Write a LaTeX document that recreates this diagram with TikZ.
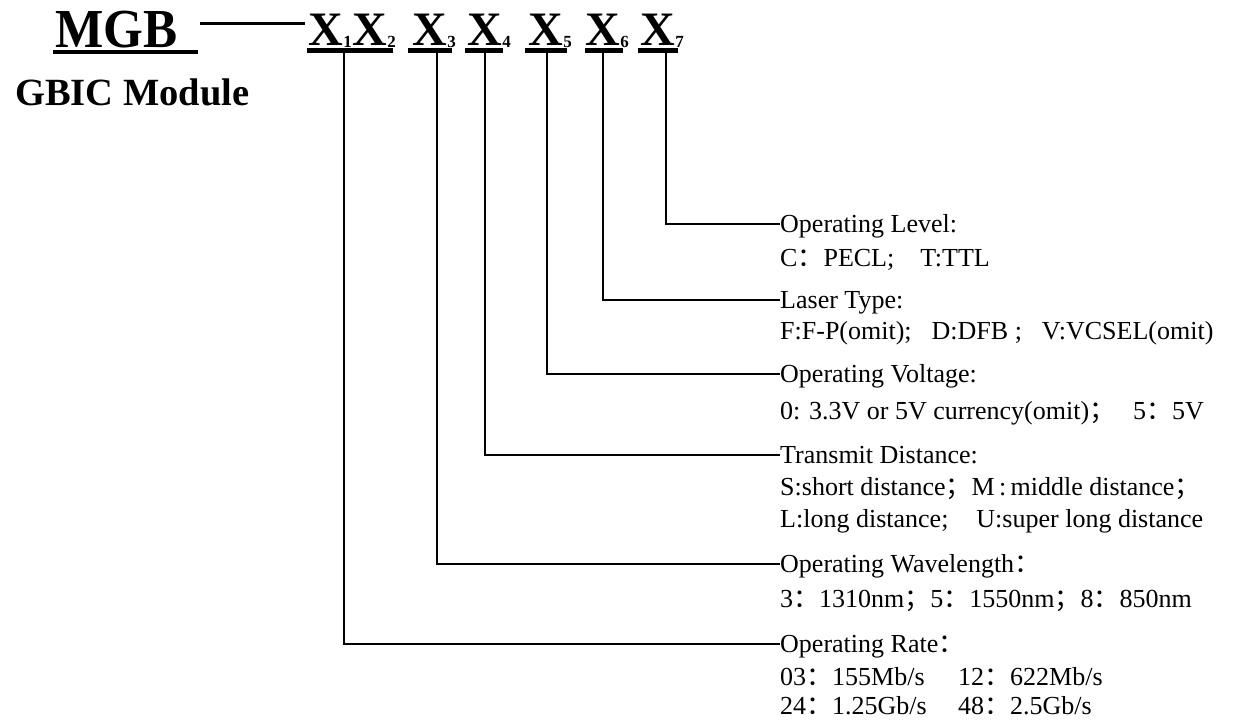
\documentclass[tikz,border=0pt]{standalone}
\usepackage{fontspec}
\setmainfont{Liberation Serif}
\newfontfamily\cjk{Noto Sans CJK SC}
\newcommand{\fc}{{\cjk ：}}
\newcommand{\fs}{{\cjk ；}}
\begin{document}
\begin{tikzpicture}[x=1pt,y=-1pt,
  conn/.style={line width=2.8pt},
  ul/.style={line width=4.2pt},
  body/.style={font=\fontsize{26}{31}\selectfont, inner sep=0pt, anchor=base west},
  title/.style={font=\fontsize{26}{31}\selectfont, inner sep=0pt, anchor=west, text height=17pt, text depth=0pt},
  bigx/.style={font=\bfseries\fontsize{48}{48}\selectfont, inner sep=0pt, anchor=base west},
  subx/.style={font=\bfseries\fontsize{17}{17}\selectfont, inner sep=0pt, anchor=base west, yshift=-2pt}]
\useasboundingbox (0,0) rectangle (1234,720);

% header
\node[font=\bfseries\fontsize{55}{55}\selectfont, inner sep=0pt, anchor=base west] (mgb) at (55,47) {\scalebox{0.93}[1]{MGB}};
\draw[ul] (53,52) -- (198,52);
\draw[line width=3pt] (200,23) -- (305,23);
\node[font=\bfseries\fontsize{38.5}{38.5}\selectfont, inner sep=0pt, anchor=base west] (gbic) at (15,105) {GBIC Module};

\node[bigx] (x1) at (308,45) {X};
\node[subx] (s1) at (x1.base east) {1};
\node[bigx] (x2) at (352,45) {X};
\node[subx] (s2) at (x2.base east) {2};
\node[bigx] (x3) at (412,45) {X};
\node[subx] (s3) at (x3.base east) {3};
\node[bigx] (x4) at (467,45) {X};
\node[subx] (s4) at (x4.base east) {4};
\node[bigx] (x5) at (528,45) {X};
\node[subx] (s5) at (x5.base east) {5};
\node[bigx] (x6) at (585,45) {X};
\node[subx] (s6) at (x6.base east) {6};
\node[bigx] (x7) at (640,45) {X};
\node[subx] (s7) at (x7.base east) {7};

\draw[ul] (307,50.5) -- (393,50.5);
\draw[ul] (408,50.5) -- (452,50.5);
\draw[ul] (465,50.5) -- (503,50.5);
\draw[ul] (525,50.5) -- (567,50.5);
\draw[ul] (585,50.5) -- (623,50.5);
\draw[ul] (638,50.5) -- (678,50.5);

\coordinate (u1) at (344,52);
\coordinate (u3) at (437,52);
\coordinate (u4) at (485,52);
\coordinate (u5) at (547,52);
\coordinate (u6) at (603,52);
\coordinate (u7) at (666,52);

% labels
\node[title] (lvl) at (780,224) {Operating Level:};
\node[body] (lvl2) at (780,266) {C\fc PECL;\hspace{26pt}T:TTL};

\node[title] (las) at (780,300) {Laser Type:};
\node[body] (las2) at (780,339) {F:F-P(omit);\hspace{20pt}D:DFB ;\hspace{20pt}V:VCSEL(omit)};

\node[title] (vol) at (780,374) {Operating Voltage:};
\node[body] (vol2) at (780,419) {0: 3.3V or 5V currency(omit)\fs\hspace{18pt}5\fc 5V};

\node[title] (tra) at (780,455) {Transmit Distance:};
\node[body] (tra2) at (780,495) {S:short distance\fs M\,:\,middle distance\fs};
\node[body] (tra3) at (780,527) {L:long distance;\hspace{28pt}U:super long distance};

\node[title] (wav) at (780,564) {Operating Wavelength\fc};
\node[body] (wav2) at (780,607) {3\fc 1310nm\fs 5\fc 1550nm\fs 8\fc 850nm};

\node[title] (rat) at (780,644) {Operating Rate\fc};
\node[body] (rat2) at (780,685) {\makebox[178pt][l]{03\fc 155Mb/s}12\fc 622Mb/s};
\node[body] (rat3) at (780,714) {\makebox[178pt][l]{24\fc 1.25Gb/s}48\fc 2.5Gb/s};

% connectors
\draw[conn] (u7) |- (lvl.west);
\draw[conn] (u6) |- (las.west);
\draw[conn] (u5) |- (vol.west);
\draw[conn] (u4) |- (tra.west);
\draw[conn] (u3) |- (wav.west);
\draw[conn] (u1) |- (rat.west);
\end{tikzpicture}
\end{document}
